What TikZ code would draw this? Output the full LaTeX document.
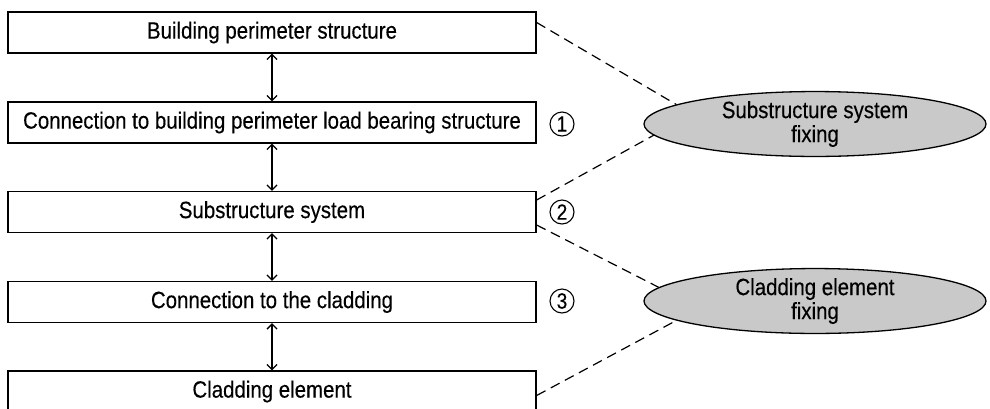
\documentclass[tikz,border=0pt]{standalone}
\usepackage{fontspec}
\setmainfont[FakeStretch=0.87,FakeBold=0.3]{Liberation Sans}
\usetikzlibrary{arrows.meta,shapes.geometric,calc}
\begin{document}
\begin{tikzpicture}[x=1pt,y=-1pt,
  stepbox/.style={draw=black,line width=1.3pt,rectangle,minimum width=528pt,minimum height=41pt,inner sep=0pt,font=\fontsize{23.5}{26}\selectfont},
  fixell/.style={draw=black,line width=1.3pt,ellipse,fill=black!21,minimum width=342pt,minimum height=60pt,inner sep=0pt,align=center,font=\fontsize{23.5}{24}\selectfont},
  numcirc/.style={draw=black,line width=1.1pt,circle,minimum size=24pt,inner sep=0pt,font=\fontsize{22}{24}\selectfont},
  dbl/.style={{Straight Barb[length=5pt,width=10pt]}-{Straight Barb[length=5pt,width=10pt]},line width=1.3pt},
  dsh/.style={dash pattern=on 10pt off 6pt,line width=1.2pt}]
\useasboundingbox (0,0) rectangle (990,408);
\node[stepbox] (b1) at (272,32.5) {Building perimeter structure};
\node[stepbox] (b2) at (272,122.5) {Connection to building perimeter load bearing structure};
\node[stepbox] (b3) at (272,212) {Substructure system};
\node[stepbox] (b4) at (272,302) {Connection to the cladding};
\node[stepbox] (b5) at (272,391.5) {Cladding element};
\draw[dbl] (b1) -- (b2);
\draw[dbl] (b2) -- (b3);
\draw[dbl] (b3) -- (b4);
\draw[dbl] (b4) -- (b5);
\node[numcirc] (n1) at (562,124) {1};
\node[numcirc] (n2) at (562,212) {2};
\node[numcirc] (n3) at (562,301) {3};
\node[fixell] (e1) at (815,124) {Substructure system\\fixing};
\node[fixell] (e2) at (815,301) {Cladding element\\fixing};
\draw[dsh] ([yshift=10pt]b1.east) -- (e1.172);
\draw[dsh] ([yshift=12pt]b3.east) -- (e1.184);
\draw[dsh] ([yshift=-13pt]b3.east) -- (e2.175);
\draw[dsh] ([yshift=-4pt]b5.east) -- (e2.188);
\end{tikzpicture}
\end{document}
